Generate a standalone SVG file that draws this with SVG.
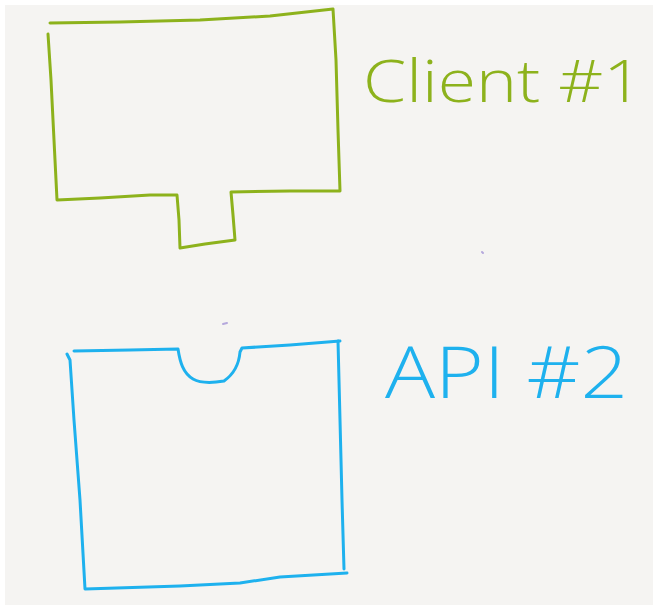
<svg xmlns="http://www.w3.org/2000/svg" width="653" height="609" viewBox="0 0 653 609">
  <style>
    .ink { fill: none; stroke-width: 3; stroke-linecap: round; stroke-linejoin: round; }
    .green { stroke: #8db21c; }
    .blue { stroke: #1eb1ee; }
    .label { font-family: "Open Sans", "Liberation Sans", Arial, sans-serif; font-weight: 300; }
  </style>
  <rect x="0" y="0" width="653" height="609" fill="#ffffff"/>
  <rect x="5" y="5" width="648" height="600" fill="#f5f4f2"/>
  <g id="client">
    <path class="ink green" d="M50,23 L120,22 L200,20 L270,16 L333,9 L336,60 L338,130 L340,191 L290,191 L231,192 L233,215 L235,240 L205,244 L180,248 L179,220 L177,195 L150,195 L100,198 L57,200 L54,140 L51,80 L48,34"/>
    <text class="label" x="363" y="102" font-size="58" fill="#8db21c" textLength="280" lengthAdjust="spacingAndGlyphs">Client #1</text>
  </g>
  <g id="api">
    <path class="ink blue" d="M74,351 L130,350 L178,349 C180,362 183,373 193,379 C200,383 212,383 224,381 C234,374 239,364 240,352 L242,348 L290,345 L340,341"/>
    <path class="ink blue" d="M338,341 L340,420 L342,500 L344,569 M347,573 L280,577 L240,583 L180,586 L85,589 L80,500 L74,420 L70,360 L67,354"/>
    <text class="label" x="385" y="398" font-size="72" fill="#1eb1ee" textLength="243" lengthAdjust="spacingAndGlyphs">API #2</text>
  </g>
  <g id="specks" stroke="#b5a8dc" stroke-width="2" stroke-linecap="round">
    <line x1="482" y1="252" x2="483" y2="253"/>
    <line x1="223" y1="324" x2="227" y2="323"/>
  </g>
</svg>
